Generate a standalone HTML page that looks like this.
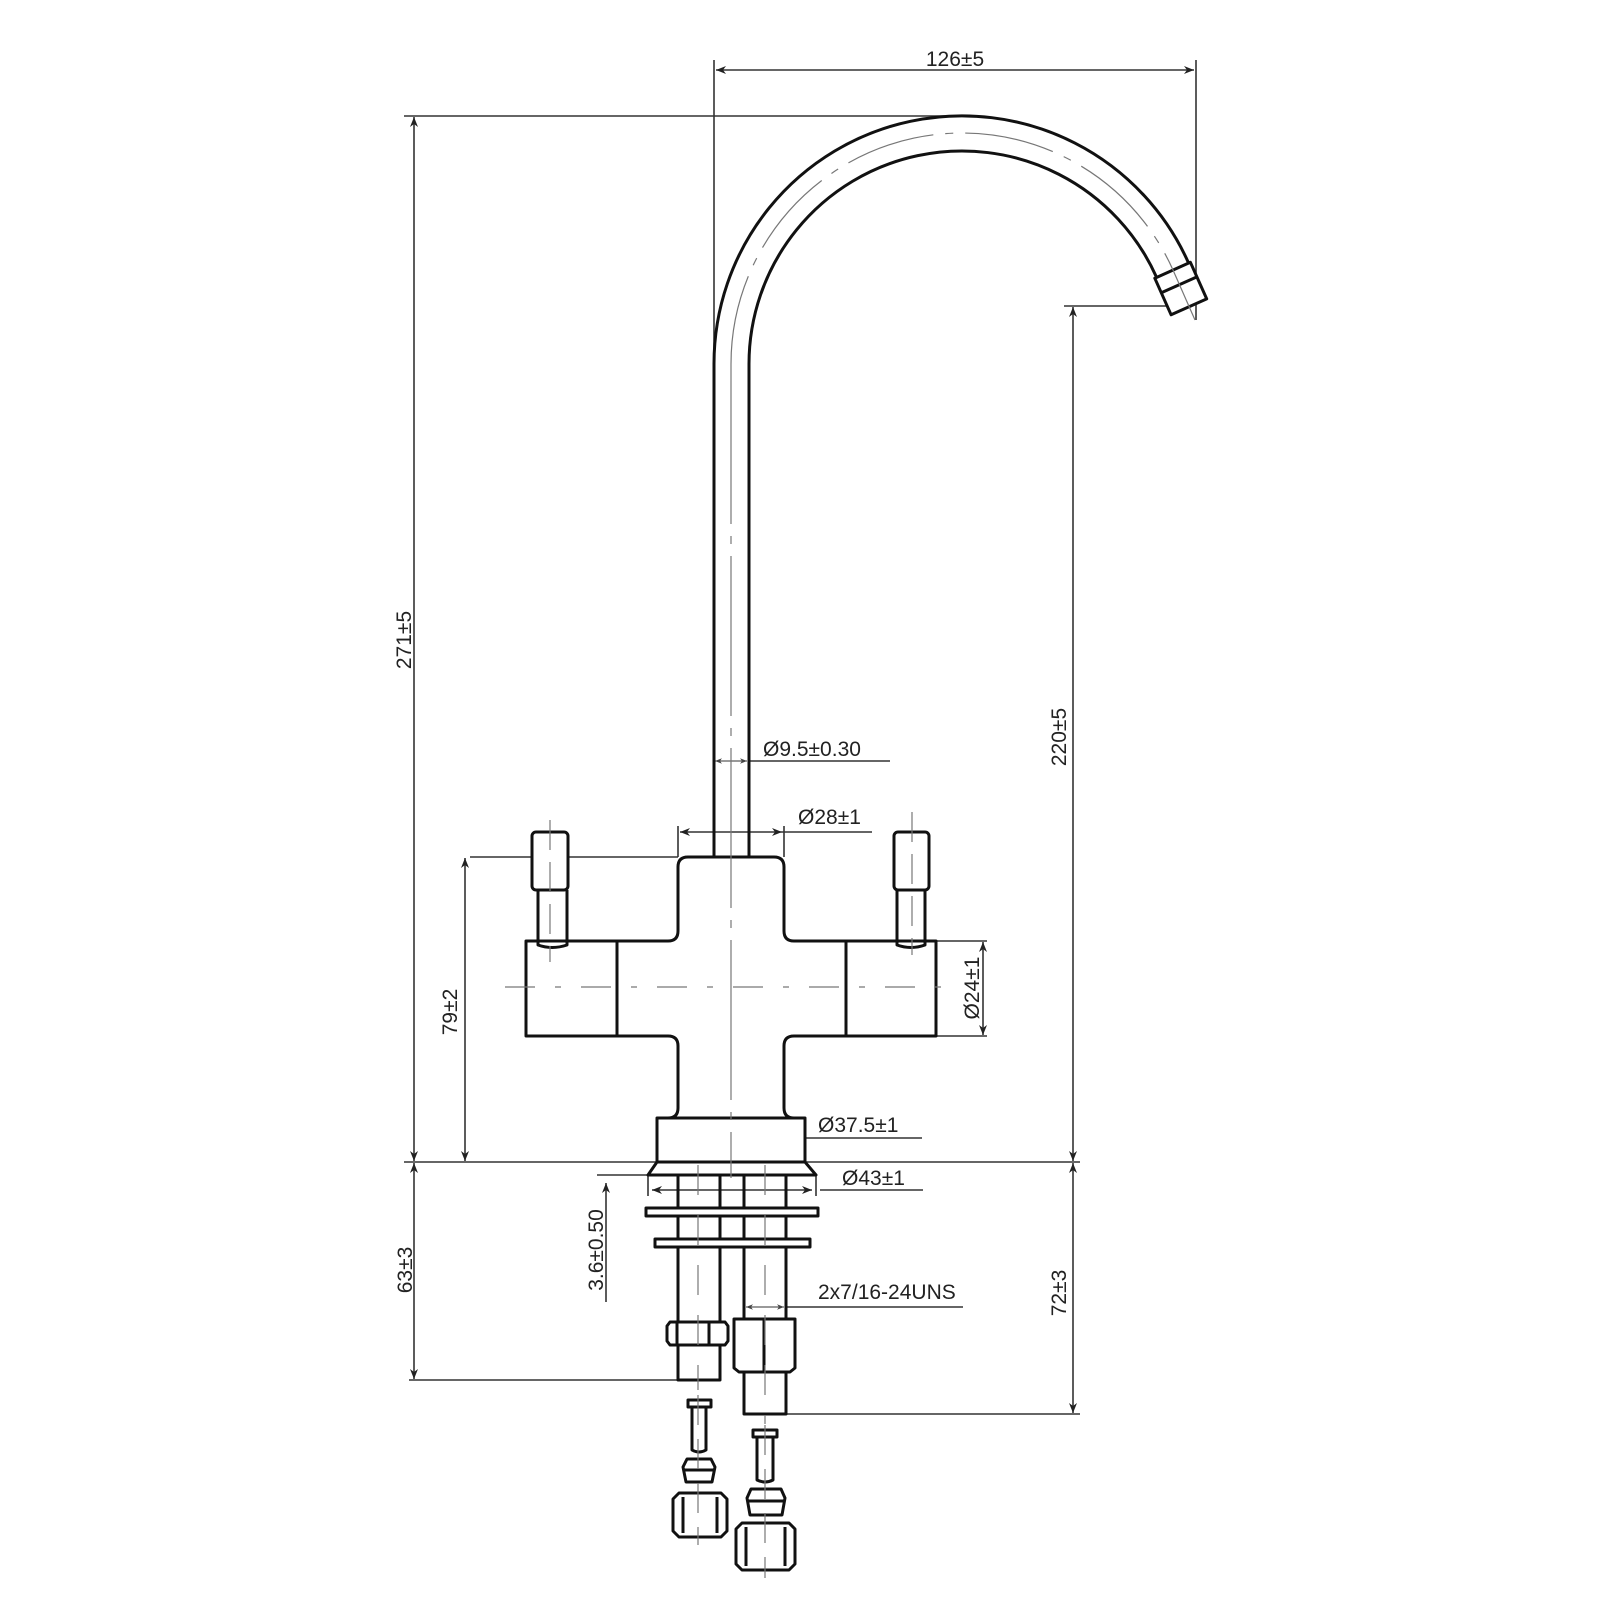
<!DOCTYPE html>
<html><head><meta charset="utf-8"><style>
html,body{margin:0;padding:0;background:#fff}
svg{display:block}
text{font-family:"Liberation Sans",Arial,sans-serif;font-size:21px;fill:#222}
</style></head><body>
<svg width="1600" height="1600" viewBox="0 0 1600 1600" xmlns="http://www.w3.org/2000/svg">
<defs>
<marker id="a" viewBox="0 0 10 10" refX="10" refY="5" markerWidth="10" markerHeight="10" markerUnits="userSpaceOnUse" orient="auto-start-reverse"><path d="M0,1 L10,5 L0,9 L3,5 z" fill="#222"/></marker>
<marker id="s" viewBox="0 0 10 10" refX="10" refY="5" markerWidth="7" markerHeight="7" markerUnits="userSpaceOnUse" orient="auto-start-reverse"><path d="M0,1 L10,5 L0,9 L3,5 z" fill="#444"/></marker>
</defs>
<g stroke="#333" stroke-width="1.6" fill="none">
<line x1="404" y1="116" x2="962" y2="116"/>
<line x1="404" y1="1162" x2="1080" y2="1162"/>
<line x1="470" y1="857" x2="678" y2="857"/>
<line x1="409" y1="1380" x2="678" y2="1380"/>
<line x1="786" y1="1414" x2="1080" y2="1414"/>
<line x1="1064" y1="306" x2="1185" y2="306"/>
<line x1="714" y1="60" x2="714" y2="364"/>
<line x1="1196" y1="60" x2="1196" y2="320"/>
<line x1="936" y1="941" x2="987" y2="941"/>
<line x1="936" y1="1036" x2="987" y2="1036"/>
<line x1="678" y1="826" x2="678" y2="857"/>
<line x1="784" y1="826" x2="784" y2="857"/>
<line x1="597" y1="1175" x2="648" y2="1175"/>
<line x1="648" y1="1175" x2="648" y2="1196"/>
<line x1="816" y1="1175" x2="816" y2="1196"/>
<line x1="716" y1="70" x2="1194" y2="70" marker-start="url(#a)" marker-end="url(#a)"/>
<line x1="414" y1="117" x2="414" y2="1161" marker-start="url(#a)" marker-end="url(#a)"/>
<line x1="414" y1="1163" x2="414" y2="1379" marker-start="url(#a)" marker-end="url(#a)"/>
<line x1="465" y1="858" x2="465" y2="1161" marker-start="url(#a)" marker-end="url(#a)"/>
<line x1="1073" y1="307" x2="1073" y2="1161" marker-start="url(#a)" marker-end="url(#a)"/>
<line x1="1073" y1="1163" x2="1073" y2="1413" marker-start="url(#a)" marker-end="url(#a)"/>
<line x1="983" y1="942" x2="983" y2="1035" marker-start="url(#a)" marker-end="url(#a)"/>
<line x1="680" y1="832" x2="782" y2="832" marker-start="url(#a)" marker-end="url(#a)"/>
<line x1="782" y1="832" x2="872" y2="832"/>
<line x1="663" y1="1138" x2="800" y2="1138" marker-start="url(#a)" marker-end="url(#a)"/>
<line x1="805" y1="1138" x2="922" y2="1138"/>
<line x1="652" y1="1190" x2="812" y2="1190" marker-start="url(#a)" marker-end="url(#a)"/>
<line x1="820" y1="1190" x2="923" y2="1190"/>
<line x1="606" y1="1183" x2="606" y2="1302" marker-start="url(#a)"/>
<line x1="715" y1="761" x2="747" y2="761" stroke-width="1" marker-start="url(#s)" marker-end="url(#s)"/>
<line x1="749" y1="761" x2="890" y2="761"/>
<line x1="746" y1="1307" x2="784" y2="1307" stroke-width="1" marker-start="url(#s)" marker-end="url(#s)"/>
<line x1="786" y1="1307" x2="963" y2="1307"/>
</g>
<g stroke="#111" stroke-width="3" fill="none" stroke-linejoin="round">
<path d="M714,857 L714,364 A248,248 0 0 1 1188.6,263.1"/>
<path d="M749,857 L749,364 A213,213 0 0 1 1156.6,277.4"/>
<polygon points="1154.8,278.2 1190.4,262.3 1206.7,298.9 1171.1,314.8" fill="#fff"/>
<line x1="1161.3" y1="292.8" x2="1196.9" y2="276.9"/>
<path d="M678,867 Q678,857 688,857 L774,857 Q784,857 784,867 L784,931 Q784,941 794,941 L936,941 L936,1036 L794,1036 Q784,1036 784,1046 L784,1108 Q784,1118 794,1118 L668,1118 Q678,1118 678,1108 L678,1046 Q678,1036 668,1036 L526,1036 L526,941 L668,941 Q678,941 678,931 Z" fill="#fff"/>
<line x1="617" y1="941" x2="617" y2="1036"/>
<line x1="846" y1="941" x2="846" y2="1036"/>
<rect x="657" y="1118" width="148" height="44" fill="#fff"/>
<polygon points="657,1162 805,1162 816,1175 648,1175" fill="#fff"/>
<rect x="532" y="832" width="36" height="58" rx="4" fill="#fff"/>
<path d="M538,890 L538,945 Q552,950 567,945 L567,890"/>
<rect x="894" y="832" width="35" height="58" rx="4" fill="#fff"/>
<path d="M897,890 L897,945 Q911,950 925,945 L925,890"/>
<rect x="678" y="1175" width="42" height="205"/>
<rect x="744" y="1175" width="42" height="239"/>
<rect x="646" y="1208" width="172" height="8" fill="#fff"/>
<rect x="655" y="1239" width="155" height="8" fill="#fff"/>
<path d="M670,1322 L725,1322 L728,1326 L728,1341 L725,1345 L670,1345 L667,1341 L667,1326 Z" fill="#fff"/>
<line x1="677" y1="1322" x2="677" y2="1345"/><line x1="709" y1="1322" x2="709" y2="1345"/>
<path d="M734,1319 L795,1319 L795,1368 L790,1372 L739,1372 L734,1368 Z" fill="#fff"/>
<line x1="764" y1="1319" x2="764" y2="1372"/>
<rect x="688" y="1400" width="23" height="7"/>
<path d="M692,1407 L692,1450 Q699,1454 706,1450 L706,1407"/>
<path d="M687,1459 L711,1459 L715,1467 L712,1482 L686,1482 L683,1467 Z"/>
<line x1="684" y1="1470" x2="714" y2="1470"/>
<path d="M679,1493 L721,1493 L727,1499 L727,1531 L721,1537 L679,1537 L673,1531 L673,1499 Z"/>
<line x1="683" y1="1497" x2="683" y2="1533"/><line x1="717" y1="1497" x2="717" y2="1533"/>
<rect x="753" y="1430" width="24" height="7"/>
<path d="M757,1437 L757,1480 Q765,1484 773,1480 L773,1437"/>
<path d="M751,1489 L781,1489 L785,1498 L782,1515 L750,1515 L747,1498 Z"/>
<line x1="748" y1="1501" x2="784" y2="1501"/>
<path d="M742,1523 L789,1523 L795,1529 L795,1564 L789,1570 L742,1570 L736,1564 L736,1529 Z"/>
<line x1="746" y1="1527" x2="746" y2="1566"/><line x1="785" y1="1527" x2="785" y2="1566"/>
</g>
<g stroke="#777" stroke-width="1.2" fill="none">
<path d="M731,364 A231,231 0 0 1 1173,270" stroke-dasharray="90,12,8,12"/>
<line x1="1173" y1="270" x2="1195" y2="320"/>
<line x1="731" y1="364" x2="731" y2="1178" stroke-dasharray="160,12,8,12"/>
<line x1="505" y1="987" x2="945" y2="987" stroke-dasharray="30,20,6,20"/>
<line x1="550" y1="820" x2="550" y2="962" stroke-dasharray="30,12"/>
<line x1="912" y1="812" x2="912" y2="955" stroke-dasharray="30,12"/>
<line x1="698" y1="1165" x2="698" y2="1390" stroke-dasharray="30,20"/>
<line x1="765" y1="1165" x2="765" y2="1424" stroke-dasharray="30,20"/>
<line x1="698" y1="1395" x2="698" y2="1545" stroke-dasharray="30,14"/>
<line x1="765" y1="1425" x2="765" y2="1578" stroke-dasharray="30,14"/>
</g>
<text x="955" y="66" text-anchor="middle">126±5</text>
<text x="763" y="756">Ø9.5±0.30</text>
<text x="798" y="824">Ø28±1</text>
<text x="818" y="1132">Ø37.5±1</text>
<text x="842" y="1185">Ø43±1</text>
<text x="818" y="1299">2x7/16-24UNS</text>
<text transform="translate(411,640) rotate(-90)" text-anchor="middle">271±5</text>
<text transform="translate(457,1012) rotate(-90)" text-anchor="middle">79±2</text>
<text transform="translate(412,1270) rotate(-90)" text-anchor="middle">63±3</text>
<text transform="translate(603,1250) rotate(-90)" text-anchor="middle">3.6±0.50</text>
<text transform="translate(1066,737) rotate(-90)" text-anchor="middle">220±5</text>
<text transform="translate(1066,1293) rotate(-90)" text-anchor="middle">72±3</text>
<text transform="translate(979,988) rotate(-90)" text-anchor="middle">Ø24±1</text>
</svg>
</body></html>
